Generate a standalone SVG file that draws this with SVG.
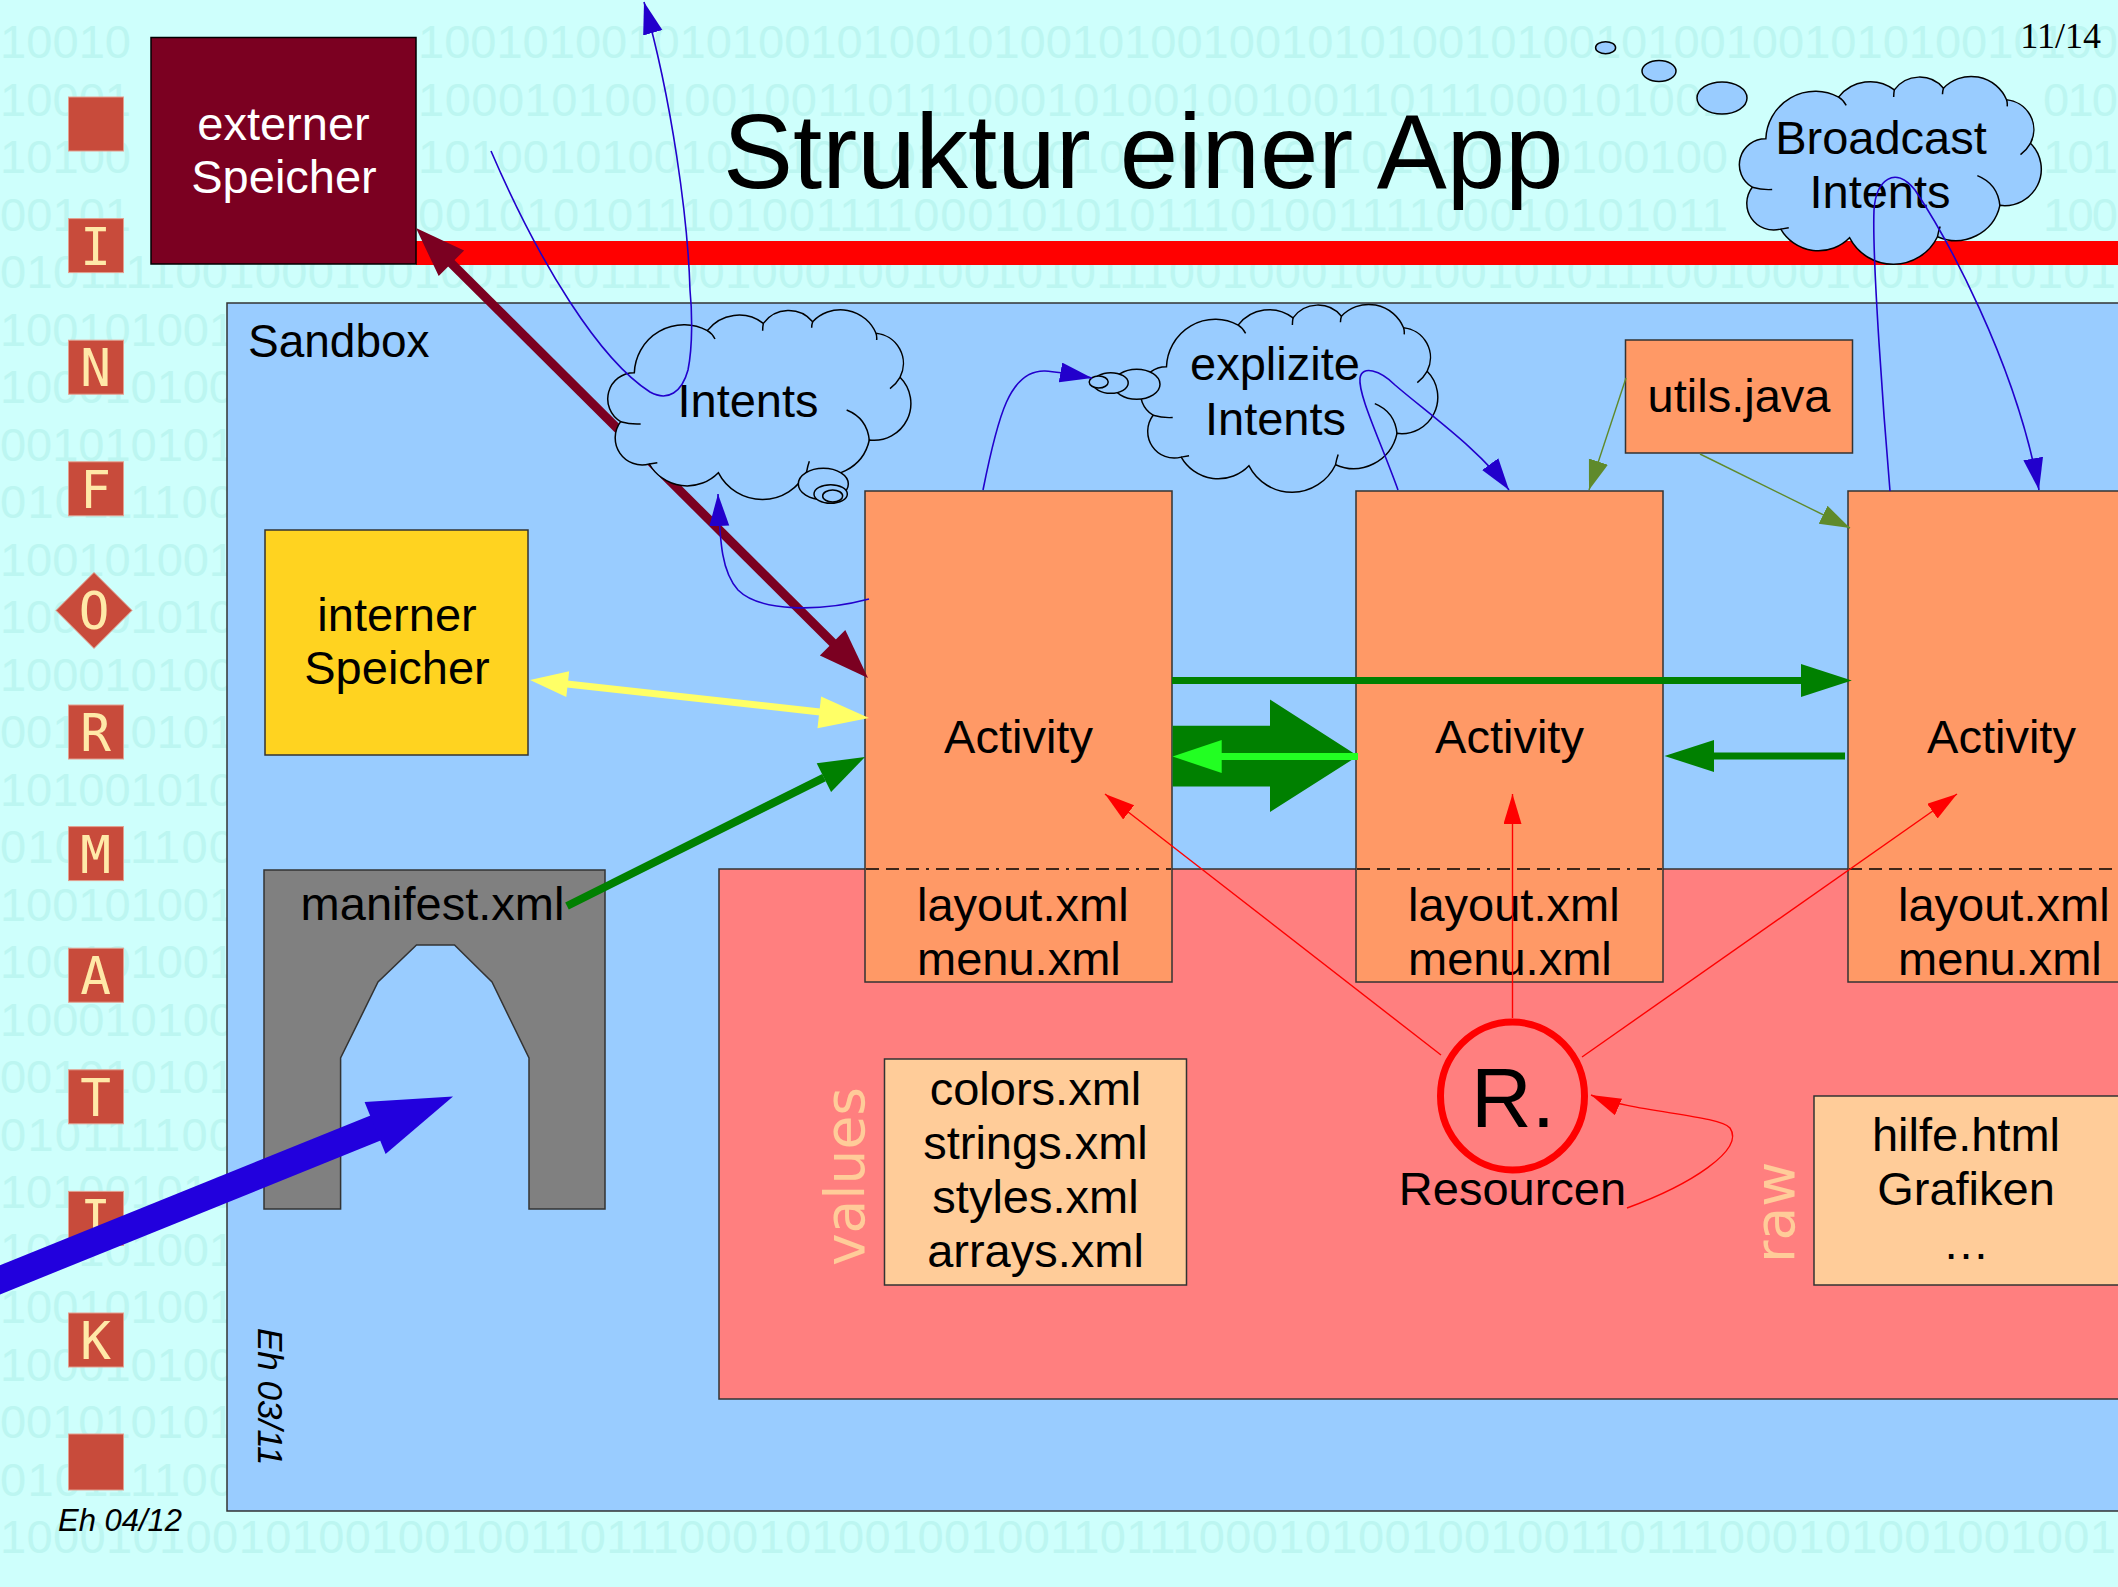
<svg xmlns="http://www.w3.org/2000/svg" xmlns:xlink="http://www.w3.org/1999/xlink" width="2118" height="1587" viewBox="0 0 2118 1587">
<style>
.bin{font-family:"Liberation Sans",Arial,sans-serif;font-size:47px;fill:#bcf6f1}
.lbl{font-family:"Liberation Sans",Arial,sans-serif;font-size:47px;fill:#000;text-anchor:middle}
.lft{font-family:"Liberation Sans",Arial,sans-serif;font-size:47px;fill:#000}
.tile{fill:#c84b3b;stroke:#e3a090;stroke-width:1}
.tl{font-family:"DejaVu Sans Mono",monospace;font-size:51px;fill:#ffe9a8;text-anchor:middle}
.box{stroke:#333;stroke-width:1.5}
.act{fill:#ff9966}
.peach{fill:#ffcc99}
.cloud{fill:#99ccff;stroke:#000;stroke-width:4.5}
.tails{fill:none;stroke:#000;stroke-width:4.5}
.bub{fill:#99ccff;stroke:#000;stroke-width:1.5}
.bthin{fill:none;stroke:#2200cc;stroke-width:1.6}
.rthin{fill:none;stroke:#ff0000;stroke-width:1.4}
.othin{fill:none;stroke:#5f8a2b;stroke-width:1.4}
.rot{font-family:"DejaVu Sans",sans-serif;font-size:55px;fill:#ffcc99}
.it{font-family:"Liberation Sans",Arial,sans-serif;font-style:italic;fill:#000}
.dd{stroke:#000;stroke-width:1.5;stroke-dasharray:13 7 13 7 13 7 3 7}
</style>
<defs>
<marker id="ahBlue" markerUnits="userSpaceOnUse" markerWidth="34" markerHeight="22" refX="32" refY="10" orient="auto"><path d="M0,0 L32,10 L0,20 z" fill="#2200cc"/></marker>
<marker id="ahRed" markerUnits="userSpaceOnUse" markerWidth="32" markerHeight="20" refX="30" refY="9" orient="auto"><path d="M0,0 L30,9 L0,18 z" fill="#ff0000"/></marker>
<marker id="ahOlive" markerUnits="userSpaceOnUse" markerWidth="32" markerHeight="22" refX="30" refY="10" orient="auto"><path d="M0,0 L30,10 L0,20 z" fill="#5f8a2b"/></marker>
<path id="cloudBody" d="M133,248 A149,149 0 0 1 352,122 A120,120 0 0 1 520,100 A94,94 0 0 1 668,95 A115.5,115.5 0 0 1 858,130 A90.7,90.7 0 0 1 930,262 A110.5,110.5 0 0 1 838,450 A136,136 0 0 1 650,545 A148,148 0 0 1 385,548 A130.6,130.6 0 0 1 178,522 A81,81 0 0 1 92,395 A79,79 0 0 1 133,248 Z"/>
<path id="cloudTails" d="M352,122 Q366,130 375,147 M520,100 Q518,110 518,122 M668,95 Q665,104 665,113 M858,130 Q861,139 860,150 M930,262 Q918,283 900,296 M770,360 Q832,385 838,452 M650,545 Q653,528 658,514 M178,522 Q190,520 202,518 M92,395 Q122,404 152,402"/>
</defs>

<!-- background -->
<rect x="0" y="0" width="2118" height="1587" fill="#cefffc"/>
<g id="binary-background">
<text class="bin" x="0" y="58" textLength="131">10010</text>
<text class="bin" x="418" y="58" textLength="1700">10010100101010010100101001010010010101001010010100100101010010100</text>
<text class="bin" x="0" y="115.5" textLength="131">10001</text>
<text class="bin" x="418" y="115.5" textLength="1310">10001010010010011011100010100100100110111000101001</text>
<text class="bin" x="2043" y="115.5" textLength="75">010</text>
<text class="bin" x="0" y="173" textLength="131">10100</text>
<text class="bin" x="418" y="173" textLength="1310">10100101001010100101001001010010100101010010100100</text>
<text class="bin" x="2043" y="173" textLength="75">101</text>
<text class="bin" x="0" y="230.5" textLength="131">00101</text>
<text class="bin" x="418" y="230.5" textLength="1310">00101010111010011110001010101110100111100010101011</text>
<text class="bin" x="2043" y="230.5" textLength="75">100</text>
<text class="bin" x="0" y="288" textLength="2116">010111100100010010010101110010001001001010111001000100100101011100100010010010101</text>
<text class="bin" x="0" y="345.5" textLength="235">100101001</text>
<text class="bin" x="0" y="403" textLength="235">100010100</text>
<text class="bin" x="0" y="460.5" textLength="235">001010101</text>
<text class="bin" x="0" y="518" textLength="235">010111100</text>
<text class="bin" x="0" y="575.5" textLength="235">100101001</text>
<text class="bin" x="0" y="633" textLength="235">100101010</text>
<text class="bin" x="0" y="690.5" textLength="235">100010100</text>
<text class="bin" x="0" y="748" textLength="235">001010101</text>
<text class="bin" x="0" y="805.5" textLength="235">101001010</text>
<text class="bin" x="0" y="863" textLength="235">010111100</text>
<text class="bin" x="0" y="920.5" textLength="235">100101001</text>
<text class="bin" x="0" y="978" textLength="235">100101001</text>
<text class="bin" x="0" y="1035.5" textLength="235">100010100</text>
<text class="bin" x="0" y="1093" textLength="235">001010101</text>
<text class="bin" x="0" y="1150.5" textLength="235">010111100</text>
<text class="bin" x="0" y="1208" textLength="235">101001010</text>
<text class="bin" x="0" y="1265.5" textLength="235">100101001</text>
<text class="bin" x="0" y="1323" textLength="235">100101001</text>
<text class="bin" x="0" y="1380.5" textLength="235">100010100</text>
<text class="bin" x="0" y="1438" textLength="235">001010101</text>
<text class="bin" x="0" y="1495.5" textLength="235">010111100</text>
<text class="bin" x="0" y="1553" textLength="2116">100010100101001001001101110001010010010011011100010100100100110111000101001001001</text>
</g>

<!-- header -->
<rect id="title-bar" x="416" y="241" width="1702" height="24" fill="#ff0000"/>
<text id="title" x="723" y="188" style="font-family:'Liberation Sans',Arial,sans-serif;font-size:105px;fill:#000">Struktur einer App</text>
<text id="page" x="2101" y="48" style="font-family:'Liberation Serif','Times New Roman',serif;font-size:36px;fill:#000;text-anchor:end">11/14</text>

<!-- letter column -->
<g id="letters">
<rect class="tile" x="68.5" y="97" width="55" height="54"/>
<rect class="tile" x="68.5" y="218.6" width="55" height="54"/><text class="tl" x="95.5" y="264.6">I</text>
<rect class="tile" x="68.5" y="340.2" width="55" height="54"/><text class="tl" x="95.5" y="386.2">N</text>
<rect class="tile" x="68.5" y="461.8" width="55" height="54"/><text class="tl" x="95.5" y="507.8">F</text>
<polygon class="tile" points="94,572.4 132,610.4 94,648.4 56,610.4"/><text class="tl" x="94" y="629.4">O</text>
<rect class="tile" x="68.5" y="705" width="55" height="54"/><text class="tl" x="95.5" y="751">R</text>
<rect class="tile" x="68.5" y="826.6" width="55" height="54"/><text class="tl" x="95.5" y="872.6">M</text>
<rect class="tile" x="68.5" y="948.2" width="55" height="54"/><text class="tl" x="95.5" y="994.2">A</text>
<rect class="tile" x="68.5" y="1069.8" width="55" height="54"/><text class="tl" x="95.5" y="1115.8">T</text>
<rect class="tile" x="68.5" y="1191.4" width="55" height="54"/><text class="tl" x="95.5" y="1237.4">I</text>
<rect class="tile" x="68.5" y="1313" width="55" height="54"/><text class="tl" x="95.5" y="1359">K</text>
<rect class="tile" x="68.5" y="1434" width="55" height="56"/>
</g>
<text id="footer-date" class="it" x="58" y="1531" style="font-size:31px">Eh 04/12</text>

<!-- sandbox -->
<g id="sandbox">
<rect x="227" y="303" width="1910" height="1208" fill="#99ccff" stroke="#333" stroke-width="1.5"/>
<text class="lft" x="248" y="357" style="font-size:46px">Sandbox</text>
<text class="it" transform="translate(258,1328) rotate(90)" style="font-size:35px">Eh 03/11</text>
</g>

<!-- resources area -->
<g id="resources">
<rect x="719" y="869" width="1420" height="530" fill="#ff7f7f" stroke="#333" stroke-width="1.5"/>
<text class="rot" transform="translate(864,1266) rotate(-90)">values</text>
<text class="rot" transform="translate(1794,1263) rotate(-90)">raw</text>
</g>

<!-- activities -->
<g id="activity1">
<rect class="act box" x="865" y="491" width="307" height="491"/>
<line class="dd" x1="866" y1="869" x2="1171" y2="869"/>
<text class="lbl" x="1018.5" y="753">Activity</text>
<text class="lft" x="917" y="921">layout.xml</text>
<text class="lft" x="917" y="975">menu.xml</text>
</g>
<g id="activity2">
<rect class="act box" x="1356" y="491" width="307" height="491"/>
<line class="dd" x1="1357" y1="869" x2="1662" y2="869"/>
<text class="lbl" x="1509.5" y="753">Activity</text>
<text class="lft" x="1408" y="921">layout.xml</text>
<text class="lft" x="1408" y="975">menu.xml</text>
</g>
<g id="activity3">
<rect class="act box" x="1848" y="491" width="307" height="491"/>
<line class="dd" x1="1849" y1="869" x2="2118" y2="869"/>
<text class="lbl" x="2001.5" y="753">Activity</text>
<text class="lft" x="1898" y="921">layout.xml</text>
<text class="lft" x="1898" y="975">menu.xml</text>
</g>

<g id="values">
<rect class="peach box" x="884.5" y="1059" width="302" height="226"/>
<text class="lbl" x="1035.5" y="1105">colors.xml</text>
<text class="lbl" x="1035.5" y="1159">strings.xml</text>
<text class="lbl" x="1035.5" y="1213">styles.xml</text>
<text class="lbl" x="1035.5" y="1267">arrays.xml</text>
</g>
<g id="raw">
<rect class="peach box" x="1814" y="1096" width="320" height="189"/>
<text class="lbl" x="1966" y="1151">hilfe.html</text>
<text class="lbl" x="1966" y="1205">Grafiken</text>
<text class="lbl" x="1966" y="1259">…</text>
</g>
<g id="R">
<ellipse cx="1512.5" cy="1096" rx="72" ry="74" fill="none" stroke="#ff0000" stroke-width="7"/>
<text class="lbl" x="1513" y="1127" style="font-size:84px">R.</text>
<text class="lbl" x="1512.5" y="1205">Resourcen</text>
</g>

<g id="interner-speicher">
<rect class="box" x="265" y="530" width="263" height="225" fill="#ffd320"/>
<text class="lbl" x="397" y="631">interner</text>
<text class="lbl" x="397" y="684">Speicher</text>
</g>
<g id="manifest">
<polygon points="264,870 605,870 605,1209 529,1209 529,1058 492,982 454.5,945 416.5,945 378,982 340.6,1058 340.6,1209 264,1209" fill="#808080" stroke="#333" stroke-width="1.5"/>
<text class="lbl" x="432.5" y="920">manifest.xml</text>
</g>
<g id="utils">
<rect class="act box" x="1625.5" y="340" width="227" height="113"/>
<text class="lbl" x="1739" y="412">utils.java</text>
</g>
<g id="externer-speicher">
<rect x="151" y="37.5" width="265" height="226.5" fill="#7b0021" stroke="#000" stroke-width="1.5"/>
<text class="lbl" x="283.5" y="140" style="fill:#fff">externer</text>
<text class="lbl" x="284" y="193" style="fill:#fff">Speicher</text>
</g>

<!-- connector under clouds -->
<g id="connectors-back">
<line x1="448" y1="260" x2="836" y2="646" stroke="#7b0021" stroke-width="9"/>
<polygon points="416,228 438.7,276.1 464.1,250.5" fill="#7b0021"/>
<polygon points="868,678 819.9,655.5 845.3,629.9" fill="#7b0021"/>
</g>

<!-- clouds -->
<g id="cloud-intents">
<g transform="translate(590,290) scale(0.33333)">
<use xlink:href="#cloudBody" class="cloud"/>
<use xlink:href="#cloudTails" class="tails"/>
<ellipse cx="700" cy="582" rx="75" ry="47" class="cloud"/>
<ellipse cx="722" cy="612" rx="50" ry="28" class="cloud"/>
<ellipse cx="728" cy="618" rx="30" ry="18" class="cloud"/>
</g>
<text class="lbl" x="748" y="417">Intents</text>
</g>
<g id="cloud-explizite">
<g transform="translate(1123,284.85) scale(0.327,0.33)">
<use xlink:href="#cloudBody" class="cloud"/>
<use xlink:href="#cloudTails" class="tails"/>
</g>
<ellipse class="bub" cx="1136.7" cy="384.3" rx="23.3" ry="15"/>
<ellipse class="bub" cx="1110.7" cy="383" rx="17.5" ry="10.3"/>
<ellipse class="bub" cx="1098.7" cy="382" rx="9.5" ry="6"/>
<text class="lbl" x="1275" y="380">explizite</text>
<text class="lbl" x="1275.5" y="435">Intents</text>
</g>
<g id="cloud-broadcast">
<ellipse class="bub" cx="1605.6" cy="47.7" rx="10" ry="6"/>
<ellipse class="bub" cx="1659" cy="71" rx="17" ry="10.5"/>
<ellipse class="bub" cx="1722" cy="98" rx="25" ry="16"/>
<g transform="translate(1721.7,56.85) scale(0.332,0.33)">
<use xlink:href="#cloudBody" class="cloud"/>
<use xlink:href="#cloudTails" class="tails"/>
</g>
<text class="lbl" x="1881" y="154">Broadcast</text>
<text class="lbl" x="1880" y="208">Intents</text>
</g>

<!-- connectors -->
<g id="connectors">
<line x1="567" y1="684" x2="820" y2="712" stroke="#ffff66" stroke-width="7"/>
<polygon points="530,680 566.3,697.1 569.2,671.3" fill="#ffff66"/>
<polygon points="869,718 817.5,728.3 821.1,696.5" fill="#ffff66"/>
<line x1="567" y1="906" x2="824" y2="777.6" stroke="#008000" stroke-width="8"/>
<polygon points="865,757 831.1,791.9 816.7,763.3" fill="#008000"/>
<polygon points="1172.6,725.7 1270,725.7 1270,699.6 1358,756 1270,812 1270,786.4 1172.6,786.4" fill="#008000"/>
<line x1="1358" y1="756.5" x2="1218" y2="756.5" stroke="#22ff22" stroke-width="7"/>
<polygon points="1172.6,756.5 1221.7,740 1221.7,773" fill="#22ff22"/>
<line x1="1172" y1="680.5" x2="1803" y2="680.5" stroke="#008000" stroke-width="7"/>
<polygon points="1851.8,680.5 1801,664 1801,697" fill="#008000"/>
<line x1="1845" y1="756" x2="1712" y2="756" stroke="#008000" stroke-width="7"/>
<polygon points="1664.5,756 1714,740 1714,772" fill="#008000"/>
<line x1="-30" y1="1292" x2="378" y2="1127" stroke="#2200dd" stroke-width="27"/>
<polygon points="453,1096.5 385.6,1154 364.6,1102" fill="#2200dd"/>
<path class="bthin" d="M869,599 C820,612 760,612 738,590 C722,572 720,545 718,494" marker-end="url(#ahBlue)"/>
<path class="bthin" d="M491,151 C540,265 600,360 650,392 C668,402 682,392 688,370 C693,345 692,310 690,290 C688,220 672,100 644,2" marker-end="url(#ahBlue)"/>
<path class="bthin" d="M983,490 C998,415 1010,370 1045,371 C1060,372 1075,375 1092,378" marker-end="url(#ahBlue)"/>
<path class="bthin" d="M1398,490 C1380,440 1358,395 1360,378 C1362,365 1380,370 1395,385 C1430,415 1480,450 1509,490" marker-end="url(#ahBlue)"/>
<path class="bthin" d="M1890,491 C1884,420 1872,260 1874,210 C1876,180 1895,165 1915,190 C1945,235 2015,360 2039,490" marker-end="url(#ahBlue)"/>
<line class="othin" x1="1626" y1="378" x2="1589" y2="490" marker-end="url(#ahOlive)"/>
<line class="othin" x1="1700" y1="454" x2="1850" y2="528" marker-end="url(#ahOlive)"/>
<line class="rthin" x1="1441" y1="1055" x2="1105" y2="794" marker-end="url(#ahRed)"/>
<line class="rthin" x1="1512.5" y1="1018" x2="1512.5" y2="794" marker-end="url(#ahRed)"/>
<line class="rthin" x1="1582" y1="1057" x2="1957" y2="794" marker-end="url(#ahRed)"/>
<path class="rthin" d="M1627,1208 C1690,1185 1745,1150 1730,1128 C1720,1115 1630,1112 1591,1095" marker-end="url(#ahRed)"/>
</g>
</svg>
